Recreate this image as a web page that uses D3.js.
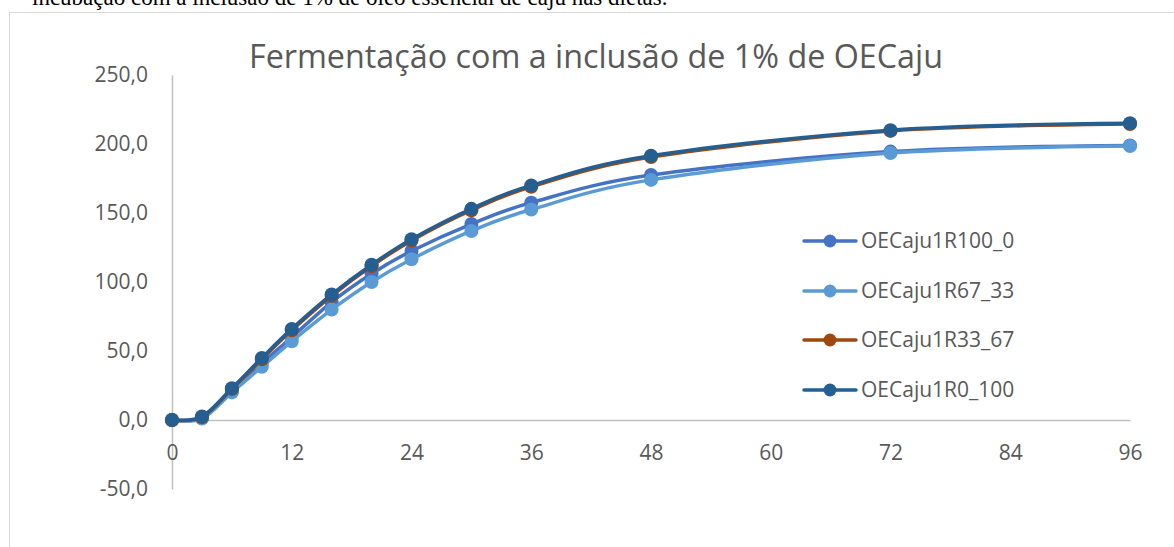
<!DOCTYPE html>
<html><head><meta charset="utf-8">
<script src="https://cdn.jsdelivr.net/npm/d3@7/dist/d3.min.js"></script>
<style>html,body{margin:0;padding:0;background:#fff;overflow:hidden}</style>
</head><body>
<svg id="c" width="1174" height="547"></svg>
<script>
const times = [0,3,6,9,12,16,20,24,30,36,48,72,96];
const seriesNames = ["OECaju1R100_0","OECaju1R67_33","OECaju1R33_67","OECaju1R0_100"];
const r100_0  = [0,1.5,21,41,60,85.5,106,122.5,142,157.5,177.5,194.5,199];
const r67_33  = [0,1,20,38.5,57,80,100,116.5,137,152.5,174,193.5,198.5];
const r33_67  = [0,2,22.5,44,65,90,111.5,130,152,169,190.5,209.5,214.5];
const r0_100  = [0,2.5,23,45,66,91,112.5,131,153,170,191.5,210,215];
const yTicks = [-50,0,50,100,150,200,250];
const xTicks = [0,12,24,36,48,60,72,84,96];
const colors = ["#4472C4","#5B9BD5","#9E480E","#255E91"];
const allSeries = [r100_0, r67_33, r33_67, r0_100];

const svg = d3.select("#c");
const font = "'Open Sans', sans-serif";

// header text (cut off by the page top)
svg.append("text").attr("x",32).attr("y",5)
  .attr("font-family","'Liberation Serif', 'Times New Roman', serif")
  .attr("font-size",23).attr("fill","#000")
  .text("incubação com a inclusão de 1% de óleo essencial de caju nas dietas.");

// chart border
svg.append("rect").attr("x",9.5).attr("y",12.5).attr("width",1300).attr("height",700)
  .attr("fill","#fff").attr("stroke","#d9d9d9").attr("stroke-width",1);

const x = d3.scaleLinear().domain([0,96]).range([172,1130]);
const y = d3.scaleLinear().domain([-50,250]).range([489,75]);

// title
svg.append("text").attr("x",596).attr("y",68).attr("text-anchor","middle")
  .attr("font-family",font).attr("font-size",32.3).attr("fill","#595959")
  .text("Fermentação com a inclusão de 1% de OECaju");

// y axis
const yAxis = d3.axisLeft(y).tickValues(yTicks).tickSize(0).tickPadding(24)
  .tickFormat(d => d3.format(".1f")(d).replace(".", ",").replace("−","-"));
const gy = svg.append("g").attr("transform",`translate(${x(0)},0)`).call(yAxis);
gy.select(".domain").attr("stroke","#bfbfbf").attr("stroke-width",1.5);
gy.selectAll("text").attr("font-family",font).attr("font-size",21).attr("fill","#595959");

// x axis
const xAxis = d3.axisBottom(x).tickValues(xTicks).tickSize(0).tickPadding(25);
const gx = svg.append("g").attr("transform",`translate(0,${y(0)})`).call(xAxis);
gx.select(".domain").attr("stroke","#bfbfbf").attr("stroke-width",1.5);
gx.selectAll("text").attr("font-family",font).attr("font-size",21).attr("fill","#595959");

const line = d3.line().x(d=>x(d[0])).y(d=>y(d[1])).curve(d3.curveCatmullRom.alpha(0));

allSeries.forEach((vals,i)=>{
  const pts = times.map((t,j)=>[t,vals[j]]);
  const g = svg.append("g");
  g.append("path").attr("d",line(pts)).attr("fill","none")
    .attr("stroke",colors[i]).attr("stroke-width",3.5).attr("stroke-linecap","round");
  g.selectAll("circle").data(pts).join("circle")
    .attr("cx",d=>x(d[0])).attr("cy",d=>y(d[1])).attr("r",7).attr("fill",colors[i]);
});

// legend
const legY = [241,291,340,390];
seriesNames.forEach((n,i)=>{
  const g = svg.append("g").attr("transform",`translate(0,${legY[i]})`);
  g.append("line").attr("x1",804).attr("x2",856).attr("y1",0).attr("y2",0)
    .attr("stroke",colors[i]).attr("stroke-width",3.5).attr("stroke-linecap","round");
  g.append("circle").attr("cx",830).attr("cy",0).attr("r",6.5).attr("fill",colors[i]);
  g.append("text").attr("x",861).attr("y",0).attr("dy","0.35em")
    .attr("font-family",font).attr("font-size",21).attr("fill","#595959").text(n);
});
</script>
</body></html>
